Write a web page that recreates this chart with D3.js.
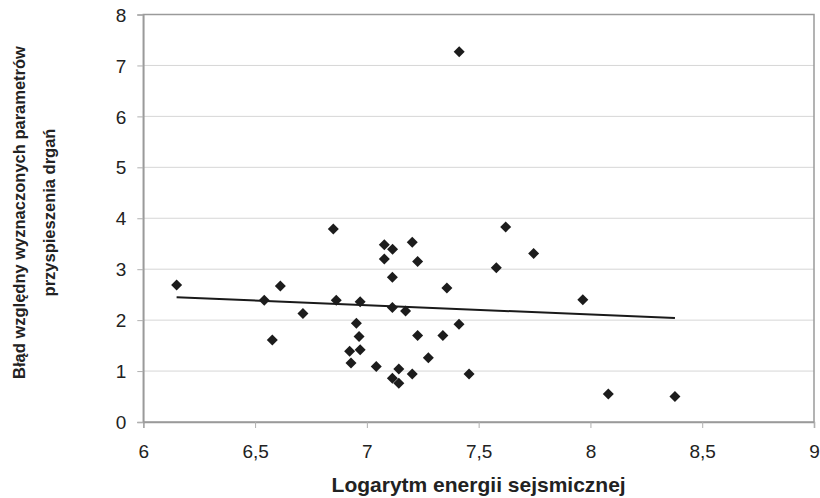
<!DOCTYPE html>
<html>
<head>
<meta charset="utf-8">
<script src="https://cdn.jsdelivr.net/npm/d3@7"></script>
<style>
  body { margin: 0; background: #fff; }
  text { font-family: "Liberation Sans", Arial, sans-serif; fill: #222; }
</style>
</head>
<body>
<div id="chart"></div>
<script>
// log of seismic energy (x) vs relative error (y)
var energy = [6.149, 6.541, 6.577, 6.613, 6.714, 6.850, 6.863, 6.923, 6.929, 6.953,
  6.965, 6.970, 6.970, 7.042, 7.078, 7.078, 7.115, 7.114, 7.114, 7.114,
  7.143, 7.143, 7.173, 7.203, 7.203, 7.227, 7.227, 7.275, 7.340, 7.358,
  7.412, 7.413, 7.457, 7.579, 7.621, 7.746, 7.966, 8.080, 8.378];
var error = [2.69, 2.39, 1.61, 2.67, 2.13, 3.79, 2.39, 1.39, 1.16, 1.94,
  1.68, 1.42, 2.36, 1.09, 3.48, 3.20, 3.39, 2.84, 2.25, 0.86,
  1.04, 0.76, 2.18, 0.94, 3.53, 3.15, 1.70, 1.26, 1.70, 2.63,
  1.92, 7.27, 0.94, 3.03, 3.83, 3.31, 2.40, 0.55, 0.50];

// linear trend line ends
var trendX = [6.149, 8.378];
var trendY = [2.45, 2.04];

var xTicks = [6, 6.5, 7, 7.5, 8, 8.5, 9];
var xTickLabels = ["6", "6,5", "7", "7,5", "8", "8,5", "9"];
var yTicks = [0, 1, 2, 3, 4, 5, 6, 7, 8];

var w = 820;
var h = 498;
var plotL = 143.3, plotR = 814, plotT = 14.5, plotB = 422;

var svg = d3.select('#chart').
append('svg').
attr('width', w).
attr('height', h);

var x = d3.scaleLinear().domain([6, 9]).range([plotL, plotR]);
var y = d3.scaleLinear().domain([0, 8]).range([plotB, plotT]);

// gridlines
svg.append('g').
selectAll('line').
data(yTicks.slice(1)).
enter().
append('line').
attr('x1', plotL).
attr('x2', plotR).
attr('y1', d => y(d)).
attr('y2', d => y(d)).
attr('stroke', '#d6d6d6').
attr('stroke-width', 1);

// plot border
svg.append('rect').
attr('x', plotL).
attr('y', plotT).
attr('width', plotR - plotL).
attr('height', plotB - plotT).
attr('fill', 'none').
attr('stroke', '#9a9a9a').
attr('stroke-width', 1.5);

var xAxis = svg.append('g').
attr('transform', 'translate(0,' + plotB + ')').
call(d3.axisBottom(x).tickValues(xTicks).tickSize(6).tickPadding(18).
tickFormat((d, i) => xTickLabels[i]));

var yAxis = svg.append('g').
attr('transform', 'translate(' + plotL + ',0)').
call(d3.axisLeft(y).tickValues(yTicks).tickSize(6).tickPadding(12).
tickFormat(d => d));

[xAxis, yAxis].forEach(function (a) {
  a.attr('font-family', null).attr('font-size', null);
  a.select('.domain').attr('stroke', '#9a9a9a').attr('stroke-width', 1.5);
  a.selectAll('.tick line').attr('stroke', '#b0b0b0');
  a.selectAll('.tick text').
  style('font-size', '19px').
  attr('fill', '#222');
});
xAxis.selectAll('.tick text').attr('dy', null).attr('y', 36);
yAxis.selectAll('.tick text').attr('dy', '0.35em').attr('x', -17);

// trend line
svg.append('line').
attr('x1', x(trendX[0])).
attr('y1', y(trendY[0])).
attr('x2', x(trendX[1])).
attr('y2', y(trendY[1])).
attr('stroke', '#1a1a1a').
attr('stroke-width', 2);

// diamond markers
var r = 5.5;
svg.append('g').
selectAll('path').
data(energy).
enter().
append('path').
attr('d', 'M0,' + -r + 'L' + r + ',0L0,' + r + 'L' + -r + ',0Z').
attr('transform', (d, i) => 'translate(' + x(d) + ',' + y(error[i]) + ')').
attr('fill', '#1c1c1c');

// axis titles
svg.append('text').
attr('x', (plotL + plotR) / 2).
attr('y', 491.5).
attr('text-anchor', 'middle').
style('font-size', '21px').
style('font-weight', 'bold').
text('Logarytm energii sejsmicznej');

var yTitle = svg.append('text').
attr('transform', 'translate(0,212.5) rotate(-90)').
attr('text-anchor', 'middle').
style('font-size', '16.5px').
style('font-weight', 'bold');
yTitle.append('tspan').attr('x', 0).attr('y', 24.5).text('Błąd względny wyznaczonych parametrów');
yTitle.append('tspan').attr('x', 0).attr('y', 54.5).text('przyspieszenia drgań');
</script>
</body>
</html>
